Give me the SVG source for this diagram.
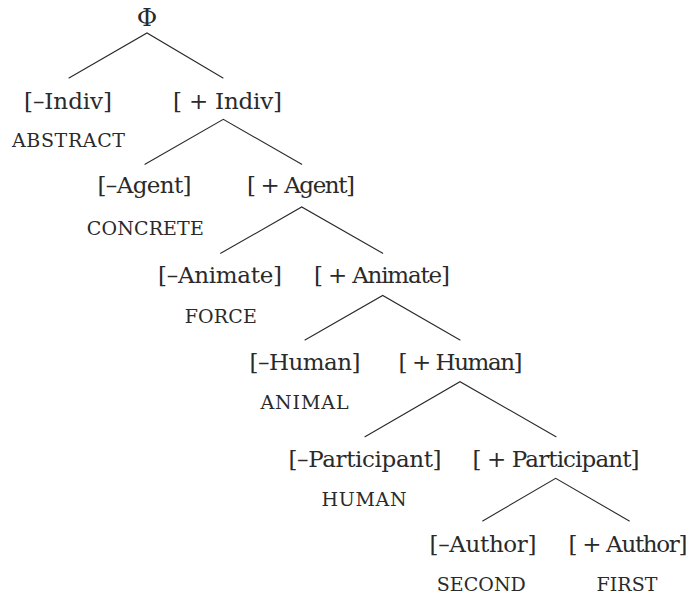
<svg xmlns="http://www.w3.org/2000/svg" width="689" height="597" viewBox="0 0 689 597">
  <style>
    .feat { font-family: "DejaVu Serif", "Liberation Serif", serif; font-size: 23px; fill: #2a2a2a; text-anchor: middle; }
    .sc { font-family: "DejaVu Serif", "Liberation Serif", serif; font-size: 19px; fill: #2a2a2a; text-anchor: middle; }
    .edge { stroke: #2a2a2a; stroke-width: 1.1; fill: none; stroke-linecap: round; }
  </style>
  <rect width="689" height="597" fill="#ffffff"/>

  <!-- branches of the feature geometry -->
  <g id="connectors">
    <path class="edge" d="M69,78 L147,33 L223,78"/>
    <path class="edge" d="M145,164.3 L223.3,119.3 L301.7,164.3"/>
    <path class="edge" d="M220.7,253.3 L301.7,207 L382.7,253.3"/>
    <path class="edge" d="M305,340 L382.7,295.5 L460,340"/>
    <path class="edge" d="M365,436.7 L460,381.7 L556,436.7"/>
    <path class="edge" d="M482.7,521 L555.7,478.3 L629.3,521"/>
  </g>

  <g id="root">
    <text class="feat" x="147" y="26" style="font-size:25px">Φ</text>
  </g>

  <g id="minus-indiv">
    <text class="feat" x="68" y="109" textLength="88" lengthAdjust="spacing">[–Indiv]</text>
    <text class="sc" x="68.5" y="147" textLength="113" lengthAdjust="spacing">ABSTRACT</text>
  </g>
  <g id="plus-indiv">
    <text class="feat" x="227.5" y="109" textLength="109" lengthAdjust="spacing">[ + Indiv]</text>
  </g>

  <g id="minus-agent">
    <text class="feat" x="144.5" y="193.3" textLength="94" lengthAdjust="spacing">[–Agent]</text>
    <text class="sc" x="145.3" y="235" textLength="117" lengthAdjust="spacing">CONCRETE</text>
  </g>
  <g id="plus-agent">
    <text class="feat" x="301" y="193.3" textLength="108" lengthAdjust="spacing">[ + Agent]</text>
  </g>

  <g id="minus-animate">
    <text class="feat" x="220" y="282.7" textLength="124" lengthAdjust="spacing">[–Animate]</text>
    <text class="sc" x="220.8" y="322.7" textLength="72" lengthAdjust="spacing">FORCE</text>
  </g>
  <g id="plus-animate">
    <text class="feat" x="382" y="282.7" textLength="136" lengthAdjust="spacing">[ + Animate]</text>
  </g>

  <g id="minus-human">
    <text class="feat" x="305" y="370" textLength="111" lengthAdjust="spacing">[–Human]</text>
    <text class="sc" x="304.5" y="409.3" textLength="88" lengthAdjust="spacing">ANIMAL</text>
  </g>
  <g id="plus-human">
    <text class="feat" x="460.5" y="370" textLength="124" lengthAdjust="spacing">[ + Human]</text>
  </g>

  <g id="minus-participant">
    <text class="feat" x="365" y="466.7" textLength="153" lengthAdjust="spacing">[–Participant]</text>
    <text class="sc" x="364" y="506" textLength="85" lengthAdjust="spacing">HUMAN</text>
  </g>
  <g id="plus-participant">
    <text class="feat" x="556" y="466.7" textLength="167" lengthAdjust="spacing">[ + Participant]</text>
  </g>

  <g id="minus-author">
    <text class="feat" x="483" y="551.7" textLength="107" lengthAdjust="spacing">[–Author]</text>
    <text class="sc" x="481.3" y="590.7" textLength="89" lengthAdjust="spacing">SECOND</text>
  </g>
  <g id="plus-author">
    <text class="feat" x="628" y="551.7" textLength="119" lengthAdjust="spacing">[ + Author]</text>
    <text class="sc" x="627" y="590.7" textLength="61" lengthAdjust="spacing">FIRST</text>
  </g>
</svg>
